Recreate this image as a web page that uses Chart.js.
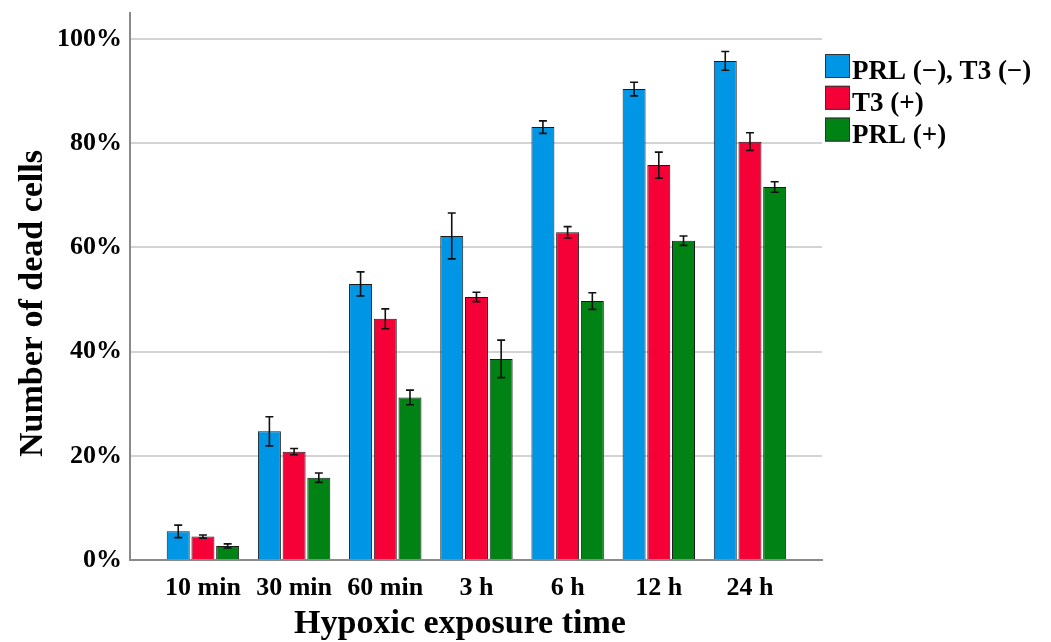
<!DOCTYPE html>
<html>
<head>
<meta charset="utf-8">
<script src="https://cdn.jsdelivr.net/npm/chart.js@4.4.0/dist/chart.umd.min.js"></script>
<style>
html, body { margin: 0; padding: 0; background: #fff; }
</style>
</head>
<body>
<canvas id="deadCellsChart" width="1051" height="642"></canvas>
<script>
Chart.defaults.color = '#000000';
Chart.defaults.font.family = '"Liberation Serif", "Times New Roman", serif';

const timePoints = ['10 min', '30 min', '60 min', '3 h', '6 h', '12 h', '24 h'];
const seriesNames = ['PRL (\u2212), T3 (\u2212)', 'T3 (+)', 'PRL (+)'];

const controlMeans = [5.5, 24.7, 53.0, 62.2, 83.1, 90.4, 95.8];
const controlErrors = [1.2, 2.8, 2.3, 4.4, 1.2, 1.3, 1.8];

const t3Means = [4.5, 20.8, 46.3, 50.5, 62.9, 75.8, 80.3];
const t3Errors = [0.3, 0.6, 1.9, 0.9, 1.1, 2.5, 1.7];

const prlMeans = [2.7, 15.8, 31.2, 38.6, 49.7, 61.3, 71.6];
const prlErrors = [0.4, 0.9, 1.4, 3.6, 1.6, 0.9, 1.0];

const yTicks = [0, 20, 40, 60, 80, 100];

const xTitle = 'Hypoxic exposure time';
const yTitle = 'Number of dead cells';

const colors = ['#0096e6', '#f50037', '#008214'];
const errorSets = [controlErrors, t3Errors, prlErrors];

function toPoints(values) {
    return values.map((v, i) => ({ x: i, y: v }));
}

// error bars with caps, drawn on top of the bars
const errorBars = {
    id: 'errorBars',
    afterDatasetsDraw(chart) {
        const ctx = chart.ctx;
        const y = chart.scales.y;
        ctx.save();
        ctx.strokeStyle = '#111';
        ctx.lineWidth = 1.6;
        chart.data.datasets.forEach((ds, di) => {
            const meta = chart.getDatasetMeta(di);
            meta.data.forEach((bar, j) => {
                const v = ds.data[j].y;
                const e = errorSets[di][j];
                const top = y.getPixelForValue(v + e);
                const bottom = y.getPixelForValue(v - e);
                ctx.beginPath();
                ctx.moveTo(bar.x, top);
                ctx.lineTo(bar.x, bottom);
                ctx.moveTo(bar.x - 4, top);
                ctx.lineTo(bar.x + 4, top);
                ctx.moveTo(bar.x - 4, bottom);
                ctx.lineTo(bar.x + 4, bottom);
                ctx.stroke();
            });
        });
        ctx.restore();
    }
};

// axis titles, placed like the original (slightly off the plot centre)
const axisTitles = {
    id: 'axisTitles',
    afterDraw(chart) {
        const ctx = chart.ctx;
        const area = chart.chartArea;
        ctx.save();
        ctx.fillStyle = '#000';
        ctx.font = 'bold 34px "Liberation Serif", serif';
        ctx.textAlign = 'center';
        ctx.textBaseline = 'alphabetic';
        ctx.fillText(xTitle, (area.left + area.right) / 2 - 16, 633);
        ctx.translate(42, (area.top + area.bottom) / 2 + 17);
        ctx.rotate(-Math.PI / 2);
        ctx.fillText(yTitle, 0, 0);
        ctx.restore();
    }
};

// legend on the right, next to the top of the plot
const sideLegend = {
    id: 'sideLegend',
    afterDraw(chart) {
        const ctx = chart.ctx;
        const left = chart.chartArea.right + 3;
        let top = chart.chartArea.top + 41;
        ctx.save();
        ctx.font = 'bold 27px "Liberation Serif", serif';
        ctx.textBaseline = 'alphabetic';
        chart.data.datasets.forEach((ds) => {
            ctx.fillStyle = ds.backgroundColor;
            ctx.fillRect(left, top, 25, 24);
            ctx.strokeStyle = '#333';
            ctx.lineWidth = 1;
            ctx.strokeRect(left + 0.5, top + 0.5, 24, 23);
            ctx.fillStyle = '#000';
            ctx.fillText(ds.label, left + 27, top + 25);
            top += 31.8;
        });
        ctx.restore();
    }
};

new Chart(document.getElementById('deadCellsChart'), {
    type: 'bar',
    data: {
        datasets: [
            { label: seriesNames[0], data: toPoints(controlMeans), backgroundColor: colors[0] },
            { label: seriesNames[1], data: toPoints(t3Means), backgroundColor: colors[1] },
            { label: seriesNames[2], data: toPoints(prlMeans), backgroundColor: colors[2] }
        ]
    },
    options: {
        responsive: false,
        animation: false,
        layout: {
            padding: { left: 49, right: 229, top: 13, bottom: 0 }
        },
        datasets: {
            bar: {
                borderColor: '#1a1a1a',
                borderWidth: 1,
                categoryPercentage: 0.813,
                barPercentage: 0.93
            }
        },
        plugins: {
            legend: { display: false },
            tooltip: { enabled: false }
        },
        scales: {
            x: {
                type: 'linear',
                min: -0.8,
                max: 6.79,
                offset: false,
                afterBuildTicks: (scale) => {
                    scale.ticks = timePoints.map((_, i) => ({ value: i }));
                },
                afterFit: (scale) => {
                    scale.paddingLeft = 0;
                    scale.paddingRight = 0;
                    scale.height = 82;
                },
                grid: { display: false, drawTicks: false },
                border: { display: true, color: '#8a8a8a', width: 2 },
                ticks: {
                    padding: 13,
                    font: { size: 26, weight: 'bold', lineHeight: 1.2 },
                    callback: (value) => timePoints[value]
                }
            },
            y: {
                min: 0,
                max: 105,
                afterBuildTicks: (scale) => {
                    scale.ticks = yTicks.map((v) => ({ value: v }));
                },
                afterFit: (scale) => {
                    scale.paddingTop = 0;
                    scale.paddingBottom = 0;
                },
                grid: { color: '#d3d3d3', lineWidth: 2, drawTicks: false },
                border: { display: true, color: '#8a8a8a', width: 2 },
                ticks: {
                    padding: 8,
                    font: { size: 26, weight: 'bold' },
                    callback: (value) => value + '%'
                }
            }
        }
    },
    plugins: [errorBars, axisTitles, sideLegend]
});
</script>
</body>
</html>
